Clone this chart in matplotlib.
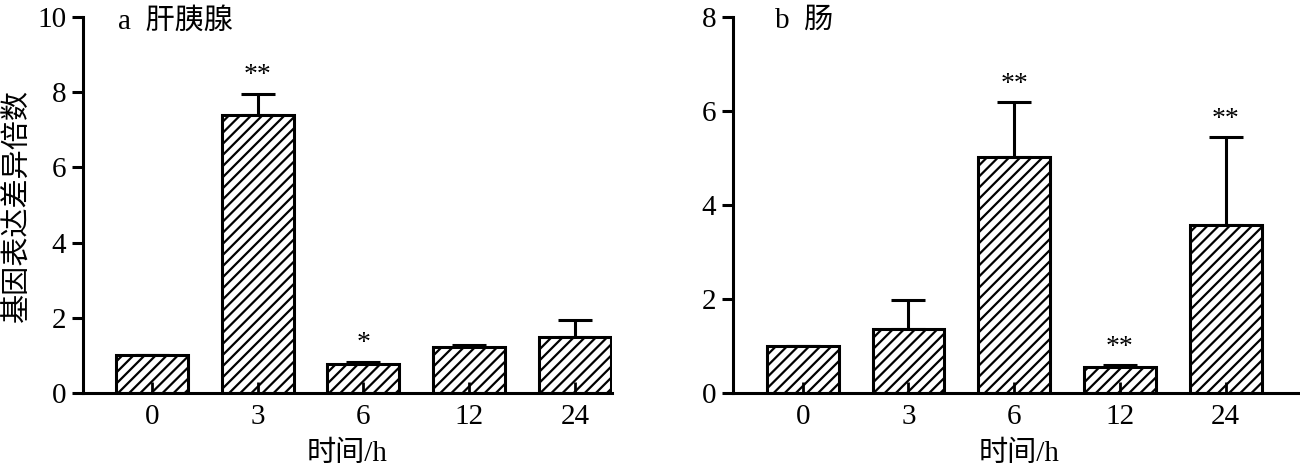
import matplotlib
matplotlib.use('Agg')
import matplotlib.pyplot as plt
import numpy as np

plt.rcParams['font.family'] = ['Liberation Serif', 'Noto Sans CJK SC']
plt.rcParams['hatch.linewidth'] = 1.6
plt.rcParams['axes.unicode_minus'] = False

zeiten = ['0', '3', '6', '12', '24']

# a 肝胰腺
werte_a = [1.0, 7.4, 0.78, 1.22, 1.48]
fehler_a = [0.0, 0.55, 0.05, 0.05, 0.46]
stern_a = ['', '**', '*', '', '']

# b 肠
werte_b = [1.0, 1.37, 5.02, 0.55, 3.57]
fehler_b = [0.0, 0.6, 1.18, 0.05, 1.88]
stern_b = ['', '', '**', '**', '**']


def panel(ax, werte, fehler, sterne, ymax, titel, xlim, stern_abstand, tx):
    x = np.arange(len(werte))
    ax.bar(x, werte, width=0.68, color='white', edgecolor='black',
           linewidth=2.2, hatch='///', zorder=1)
    ax.errorbar(x, werte, yerr=[np.zeros(len(werte)), fehler], fmt='none',
                ecolor='black', elinewidth=2.2, capsize=12, capthick=2.2,
                zorder=0.5)
    for xi, w, f, s in zip(x, werte, fehler, sterne):
        if s:
            ax.text(xi, w + f + stern_abstand, s, ha='center', va='bottom',
                    fontsize=20)
    ax.set_axisbelow(False)
    ax.set_xlim(*xlim)
    ax.set_ylim(0, ymax)
    ax.set_yticks(np.arange(0, ymax + 1, 2))
    ax.set_xticks(x)
    ax.set_xticklabels(zeiten)
    ax.spines['top'].set_visible(False)
    ax.spines['right'].set_visible(False)
    ax.spines['left'].set_linewidth(2.2)
    ax.spines['bottom'].set_linewidth(2.2)
    ax.tick_params(axis='y', direction='out', length=8, width=2.2,
                   labelsize=21, pad=4)
    ax.tick_params(axis='x', direction='in', length=8, width=2.0,
                   labelsize=21, pad=8)
    ax.set_xlabel('时间/h', fontsize=21, labelpad=8)
    ax.text(tx, 1.024, titel, transform=ax.transAxes, ha='left',
            va='top', fontsize=21)


fig = plt.figure(figsize=(13, 4.74), dpi=100)
ax1 = fig.add_axes([0.0638, 0.171, 0.407, 0.793])
ax2 = fig.add_axes([0.5638, 0.171, 0.44, 0.793])

panel(ax1, werte_a, fehler_a, stern_a, 10, 'a  肝胰腺', (-0.65, 4.35), 0.15, 0.066)
panel(ax2, werte_b, fehler_b, stern_b, 8, 'b  肠', (-0.66, 4.75), 0.1, 0.073)
ax1.set_ylabel('基因表达差异倍数', fontsize=21, labelpad=4)

fig.savefig('out.png', dpi=100)
